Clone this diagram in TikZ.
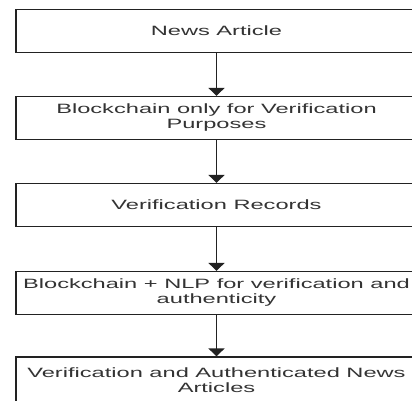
\documentclass[tikz,border=0pt]{standalone}
\usepackage{fontspec}
\newfontfamily\widesans[FakeStretch=1.75]{Liberation Sans}
\usetikzlibrary{arrows.meta}
\definecolor{txtgray}{HTML}{333333}
\definecolor{linegray}{HTML}{222222}
\begin{document}
\begin{tikzpicture}[x=1pt,y=-1pt,
  box/.style={draw=linegray,line width=1.2pt,fill=white,minimum width=401pt,minimum height=43pt,
    inner sep=0pt,align=center,text=txtgray,font=\widesans\fontsize{13.5}{15}\selectfont},
  flow/.style={draw=linegray,line width=1.3pt,-{Triangle[width=16pt,length=8pt]}}]
\useasboundingbox (0,0) rectangle (412,400);
\clip (0,0) rectangle (412,400);
\fill[white] (0,0) rectangle (412,400);
\node[box] (b1) at (216.5,31) {News Article};
\node[box] (b2) at (216.5,118) {Blockchain only for Verification\\Purposes};
\node[box] (b3) at (216.5,205) {Verification Records};
\node[box] (b4) at (216.5,293) {Blockchain + NLP for verification and\\authenticity};
\node[box,minimum height=46pt] (b5) at (216.5,380) {Verification and Authenticated News\\Articles};
\draw[flow] (b1) -- (b2);
\draw[flow] (b2) -- (b3);
\draw[flow] (b3) -- (b4);
\draw[flow] (b4) -- (b5);
\end{tikzpicture}
\end{document}
